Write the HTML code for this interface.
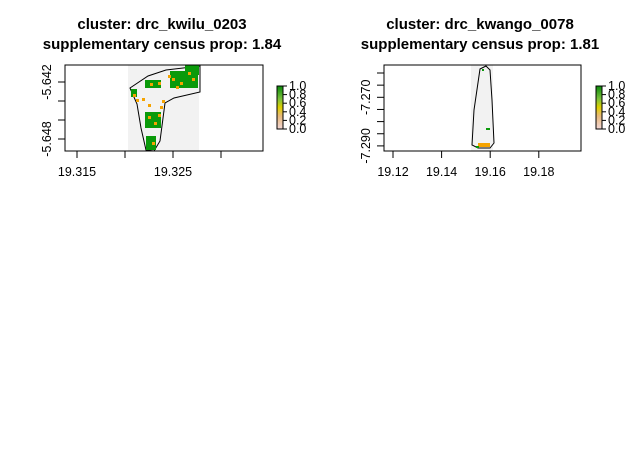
<!DOCTYPE html>
<html style="background:#fff"><head><meta charset="utf-8"><style>
html,body{margin:0;background:#fff}
text{font-family:"Liberation Sans",sans-serif;fill:#000}
.t{font-weight:bold;font-size:15px}
.a{font-size:12.5px}
</style></head><body>
<svg id="s" width="637" height="465" style="background:#fff">
<rect width="637" height="465" fill="#fff"/>
<text class="t" x="162" y="29" text-anchor="middle">cluster: drc_kwilu_0203</text>
<text class="t" x="162" y="49" text-anchor="middle">supplementary census prop: 1.84</text>
<text class="t" x="480" y="29" text-anchor="middle">cluster: drc_kwango_0078</text>
<text class="t" x="480" y="49" text-anchor="middle">supplementary census prop: 1.81</text>
<g id="p1">
<rect x="128" y="65" width="71" height="86" fill="#f2f2f2"/>
<polygon points="130,88 148,76 166,70 200,66 200,92 174,98 165,103 160,141 154,151 146,150 141,128 137,104" fill="#f2f2f2" stroke="#000" stroke-width="1"/>
<rect x="170" y="71" width="28" height="17" fill="#0a9a0a"/>
<rect x="185" y="65" width="14" height="10" fill="#0a9a0a"/>
<rect x="145" y="80" width="16" height="8" fill="#0a9a0a"/>
<rect x="145" y="112" width="16" height="16" fill="#0a9a0a"/>
<rect x="146" y="136" width="10" height="14" fill="#0a9a0a"/>
<rect x="131" y="89" width="6" height="8" fill="#0a9a0a"/>
<g fill="#f5a300">
<rect x="172" y="78" width="3" height="3"/><rect x="180" y="82" width="3" height="3"/><rect x="188" y="72" width="3" height="3"/><rect x="192" y="78" width="3" height="3"/><rect x="176" y="86" width="3" height="3"/><rect x="150" y="83" width="3" height="3"/><rect x="158" y="82" width="3" height="3"/><rect x="162" y="100" width="3" height="3"/><rect x="160" y="106" width="3" height="3"/><rect x="148" y="116" width="3" height="3"/><rect x="154" y="122" width="3" height="3"/><rect x="158" y="114" width="3" height="3"/><rect x="148" y="104" width="3" height="3"/><rect x="133" y="94" width="3" height="3"/><rect x="136" y="99" width="3" height="3"/><rect x="152" y="142" width="3" height="3"/><rect x="168" y="75" width="3" height="3"/><rect x="142" y="98" width="3" height="3"/></g>
<rect x="65" y="65" width="198" height="86" fill="none" stroke="#000"/>
</g>
<g id="p2">
<rect x="471" y="65" width="22" height="86" fill="#f2f2f2"/>
<polygon points="480,69 486,66 490,70 492,100 494,143 490,148 478,148 472,145 474,110" fill="#f2f2f2" stroke="#000"/>
<rect x="482" y="69" width="2" height="2" fill="#0a9a0a"/>
<rect x="486" y="128" width="4" height="2" fill="#0a9a0a"/>
<rect x="478" y="143" width="12" height="4" fill="#f5a300"/>
<rect x="476" y="146" width="3" height="2" fill="#0a9a0a"/>
<rect x="384" y="65" width="197" height="86" fill="none" stroke="#000"/>
</g>
<defs><linearGradient id="lg" x1="0" y1="1" x2="0" y2="0"><stop offset="0" stop-color="#f3d7d7"/><stop offset="0.3" stop-color="#e8b97a"/><stop offset="0.5" stop-color="#e0d000"/><stop offset="0.7" stop-color="#7bc23c"/><stop offset="1" stop-color="#0a8a0a"/></linearGradient></defs>
<g id="ax"></g>
</svg>
<script>
const xTicks1=[19.315,19.32,19.325,19.33];
const xLabels1=["19.315","","19.325",""];
const yTicks1=[-5.642,-5.644,-5.646,-5.648];
const yLabels1=["-5.642","","","-5.648"];
const xTicks2=[19.12,19.14,19.16,19.18];
const xLabels2=["19.12","19.14","19.16","19.18"];
const yTicks2=[-7.26,-7.265,-7.27,-7.275,-7.28,-7.285,-7.29];
const yLabels2=["","","-7.270","","","","-7.290"];
const legendTicks=[0,0.2,0.4,0.6,0.8,1.0];
const ns="http://www.w3.org/2000/svg",ax=document.getElementById('ax');
function el(t,a,txt){const e=document.createElementNS(ns,t);for(const k in a)e.setAttribute(k,a[k]);if(txt!==undefined)e.textContent=txt;ax.appendChild(e);return e;}
const x1=v=>77+(v-19.315)*9600, y1=v=>82+(-5.642-v)*9500;
const x2=v=>393+(v-19.12)*2430, y2=v=>73+(-7.26-v)*2430;
function axes(xs,xl,xf,ys,yl,yf,left,bottom){
 xs.forEach((v,i)=>{const x=xf(v);el('line',{x1:x,x2:x,y1:bottom,y2:bottom+7,stroke:'#000'});
  if(xl[i]){const t=el('text',{x:x,y:bottom+25,'text-anchor':'middle',class:'a'},xl[i]);}});
 ys.forEach((v,i)=>{const y=yf(v);el('line',{x1:left-7,x2:left,y1:y,y2:y,stroke:'#000'});
  if(yl[i]){const t=el('text',{x:0,y:0,'text-anchor':'middle',class:'a',transform:`translate(${left-14},${y}) rotate(-90)`},yl[i]);}});
}
axes(xTicks1,xLabels1,x1,yTicks1,yLabels1,y1,65,151);
axes(xTicks2,xLabels2,x2,yTicks2,yLabels2,y2,384,151);
function legend(lx){
 const r=el('rect',{x:lx,y:86,width:6,height:43,fill:'url(#lg)',stroke:'#000'});
 
 
 legendTicks.forEach(v=>{const y=129-v*43;el('line',{x1:lx+6,x2:lx+10,y1:y,y2:y,stroke:'#000'});
  const t=el('text',{x:lx+12,y:y+4,class:'a',fill:'#000'},v.toFixed(1));});
}
legend(277);legend(596);
</script>
</body></html>
